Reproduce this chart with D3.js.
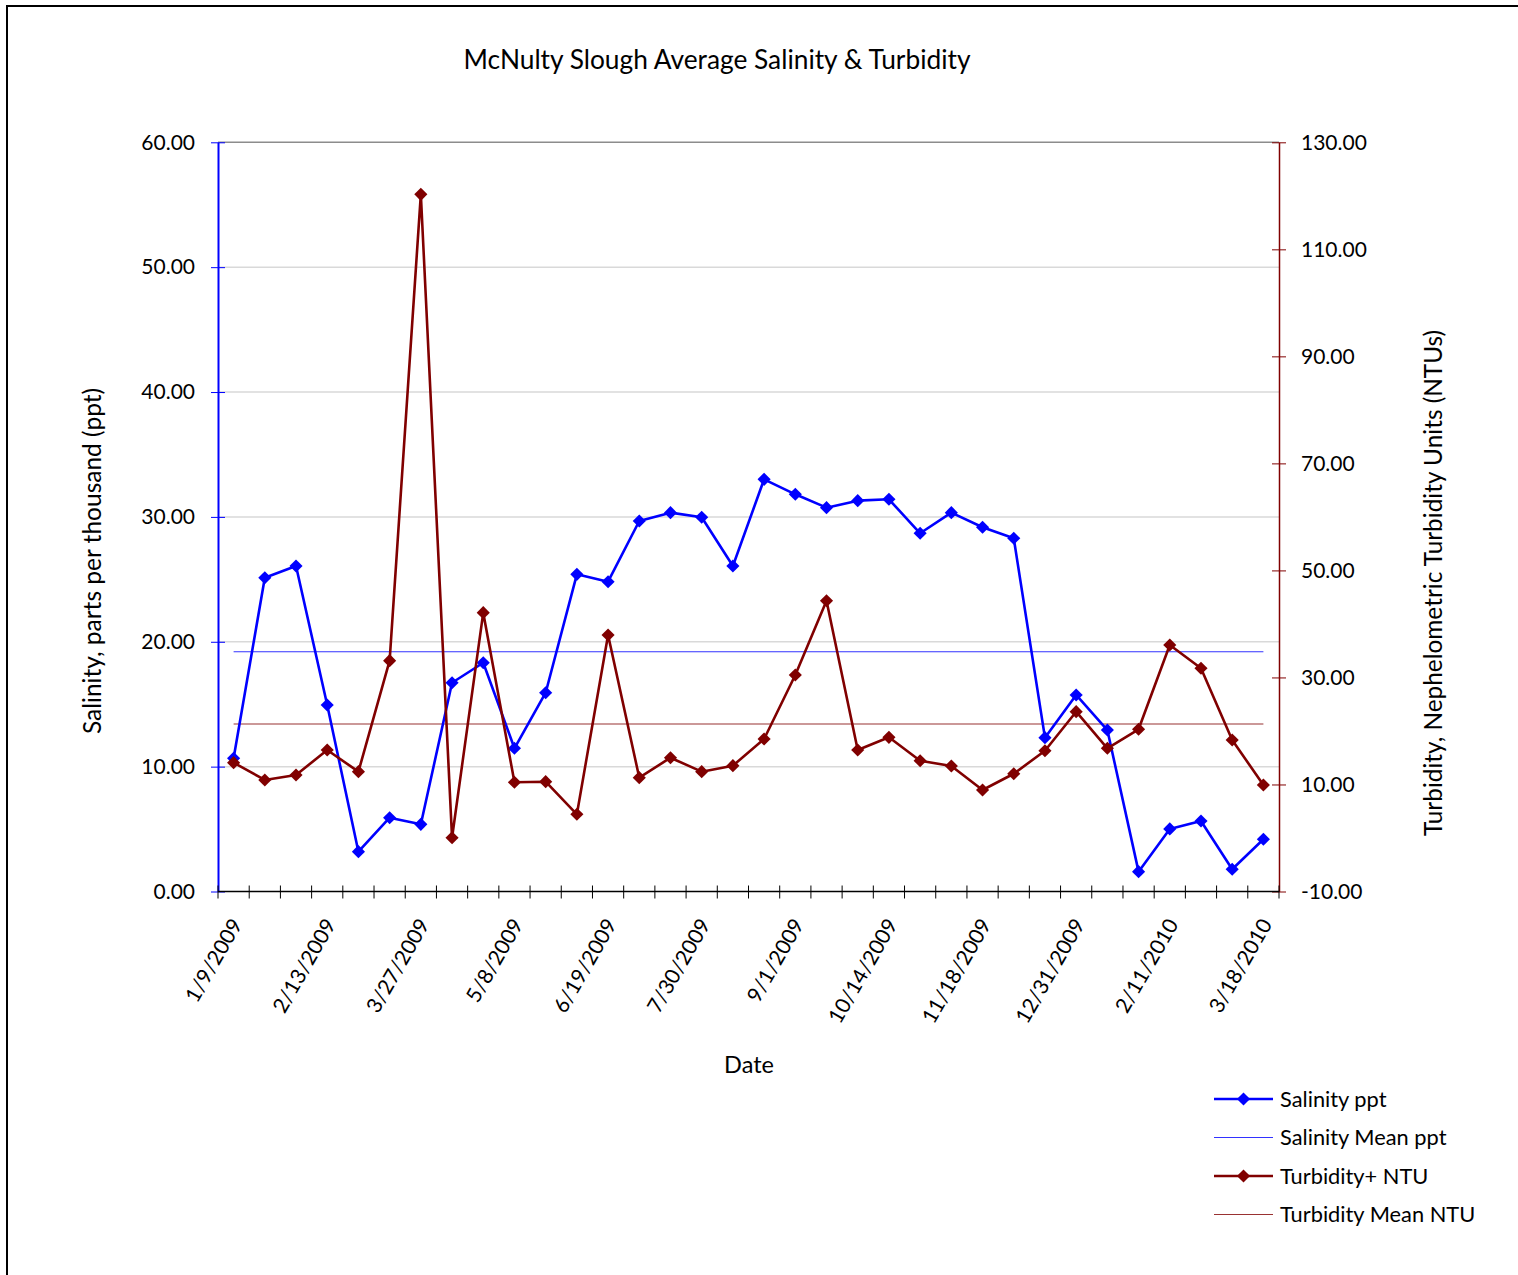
<!DOCTYPE html>
<html lang="en">
<head>
<meta charset="UTF-8">
<title>McNulty Slough Average Salinity &amp; Turbidity</title>
<style>
  body { margin: 0; background: #fff; }
  svg text { font-family: Lato, "Open Sans", sans-serif; fill: #000; }
</style>
</head>
<body>
<svg id="chart" width="1518" height="1275"></svg>
<script src="https://d3js.org/d3.v7.min.js"></script>
<script>
// sample dates (only every third one is labelled on the axis)
var tickLabels = ["1/9/2009", "2/13/2009", "3/27/2009", "5/8/2009", "6/19/2009", "7/30/2009",
                  "9/1/2009", "10/14/2009", "11/18/2009", "12/31/2009", "2/11/2010", "3/18/2010"];
var labelStep = 3;

var salinity = [10.67, 25.13, 26.07, 14.94, 3.19, 5.91, 5.38, 16.72, 18.32, 11.47,
                15.92, 25.40, 24.81, 29.67, 30.34, 29.97, 26.07, 33.01, 31.81, 30.74,
                31.30, 31.41, 28.69, 30.34, 29.17, 28.29, 12.32, 15.74, 12.93, 1.59,
                5.01, 5.65, 1.78, 4.18];
var turbidity = [14.07, 10.84, 11.77, 16.44, 12.39, 33.13, 120.28, 0.05, 42.10, 10.41,
                 10.52, 4.43, 37.93, 11.27, 15.00, 12.39, 13.51, 18.50, 30.46, 44.34,
                 16.44, 18.81, 14.44, 13.45, 8.97, 12.00, 16.31, 23.60, 16.76, 20.31,
                 36.06, 31.71, 18.31, 9.90];
var salinityMean = 19.20;
var turbidityMean = 21.30;

var leftTicks = [0, 10, 20, 30, 40, 50, 60];
var rightTicks = [-10, 10, 30, 50, 70, 90, 110, 130];

var blue = "#0000ff", red = "#800000";
var fmt = function(v) { return v.toFixed(2); };   // plain hyphen for negatives

var svg = d3.select("#chart");

// outer chart border
svg.append("rect")
    .attr("x", 7).attr("y", 6)
    .attr("width", 1530).attr("height", 1300)
    .attr("fill", "none").attr("stroke", "#000").attr("stroke-width", 2);

var plot = { left: 218, right: 1279, top: 142.3, bottom: 891.5 };

var idx = d3.range(salinity.length);
var x = d3.scaleBand().domain(idx).range([plot.left, plot.right]).padding(0);
var cx = function(i) { return x(i) + x.bandwidth() / 2; };

var yL = d3.scaleLinear().domain([0, 60]).range([plot.bottom, plot.top]);
var yR = d3.scaleLinear().domain([-10, 130]).range([plot.bottom, plot.top]);

// gridlines
svg.append("g").selectAll("line")
    .data(leftTicks.slice(1))
    .enter().append("line")
    .attr("x1", plot.left).attr("x2", plot.right)
    .attr("y1", function(d) { return yL(d); })
    .attr("y2", function(d) { return yL(d); })
    .attr("stroke", function(d) { return d == 60 ? "#8c8c8c" : "#d9d9d9"; })
    .attr("stroke-width", 1.5);

// left axis
var leftAxis = svg.append("g")
    .attr("transform", "translate(" + plot.left + ",0)")
    .call(d3.axisLeft(yL).tickValues(leftTicks).tickFormat(fmt)
          .tickSizeInner(7).tickSizeOuter(0).tickPadding(16));
leftAxis.select(".domain").attr("stroke", blue).attr("stroke-width", 2);
leftAxis.selectAll(".tick line").attr("stroke", blue).attr("x2", 7).attr("x1", -7);
leftAxis.selectAll(".tick text").style("font-size", "21px");

// right axis
var rightAxis = svg.append("g")
    .attr("transform", "translate(" + plot.right + ",0)")
    .call(d3.axisRight(yR).tickValues(rightTicks).tickFormat(fmt)
          .tickSizeInner(7).tickSizeOuter(0).tickPadding(15));
rightAxis.select(".domain").attr("stroke", red).attr("stroke-width", 1.5);
rightAxis.selectAll(".tick line").attr("stroke", red).attr("x1", -7).attr("x2", 7);
rightAxis.selectAll(".tick text").style("font-size", "21px");

// bottom axis: ticks at category boundaries
var bottom = svg.append("g");
bottom.append("line")
    .attr("x1", plot.left).attr("x2", plot.right)
    .attr("y1", plot.bottom).attr("y2", plot.bottom)
    .attr("stroke", "#000").attr("stroke-width", 1.5);
bottom.selectAll("line.tk")
    .data(d3.range(salinity.length + 1))
    .enter().append("line").attr("class", "tk")
    .attr("x1", function(i) { return plot.left + i * x.bandwidth(); })
    .attr("x2", function(i) { return plot.left + i * x.bandwidth(); })
    .attr("y1", plot.bottom - 6).attr("y2", plot.bottom + 7)
    .attr("stroke", "#000").attr("stroke-width", 1);
bottom.selectAll("text")
    .data(tickLabels)
    .enter().append("text")
    .attr("transform", function(d, k) {
        return "translate(" + (cx(k * labelStep) + 3) + "," + (plot.bottom + 29) + ") rotate(-60)";
    })
    .attr("text-anchor", "end")
    .attr("dy", "0.35em")
    .style("font-size", "21px")
    .text(function(d) { return d; });

// mean lines
svg.append("line")
    .attr("x1", cx(0)).attr("x2", cx(idx.length - 1))
    .attr("y1", yL(salinityMean)).attr("y2", yL(salinityMean))
    .attr("stroke", blue).attr("stroke-width", 1.2).attr("opacity", 0.8);
svg.append("line")
    .attr("x1", cx(0)).attr("x2", cx(idx.length - 1))
    .attr("y1", yR(turbidityMean)).attr("y2", yR(turbidityMean))
    .attr("stroke", red).attr("stroke-width", 1.2).attr("opacity", 0.8);

var diamond = d3.symbol().type(d3.symbolDiamond2).size(110);

function drawSeries(values, scale, color) {
    var line = d3.line()
        .x(function(d, i) { return cx(i); })
        .y(function(d) { return scale(d); });
    svg.append("path")
        .datum(values)
        .attr("d", line)
        .attr("fill", "none")
        .attr("stroke", color)
        .attr("stroke-width", 2.6)
        .attr("stroke-linejoin", "round");
    svg.append("g").selectAll("path")
        .data(values)
        .enter().append("path")
        .attr("d", diamond)
        .attr("transform", function(d, i) { return "translate(" + cx(i) + "," + scale(d) + ")"; })
        .attr("fill", color);
}

drawSeries(salinity, yL, blue);
drawSeries(turbidity, yR, red);

// titles
svg.append("text")
    .attr("x", 717).attr("y", 69)
    .attr("text-anchor", "middle")
    .style("font-size", "26.3px")
    .text("McNulty Slough Average Salinity & Turbidity");

svg.append("text")
    .attr("transform", "translate(101,561) rotate(-90)")
    .attr("text-anchor", "middle")
    .style("font-size", "24.5px")
    .text("Salinity, parts per thousand (ppt)");

svg.append("text")
    .attr("transform", "translate(1442,583) rotate(-90)")
    .attr("text-anchor", "middle")
    .style("font-size", "24.4px")
    .text("Turbidity, Nephelometric Turbidity Units (NTUs)");

svg.append("text")
    .attr("x", 749).attr("y", 1073)
    .attr("text-anchor", "middle")
    .style("font-size", "23.5px")
    .text("Date");

// legend
var legendItems = [
    { name: "Salinity ppt", color: blue, marker: true, w: 2.6 },
    { name: "Salinity Mean ppt", color: blue, marker: false, w: 1.2 },
    { name: "Turbidity+ NTU", color: red, marker: true, w: 2.6 },
    { name: "Turbidity Mean NTU", color: red, marker: false, w: 1.2 }
];
var legend = svg.append("g").selectAll("g")
    .data(legendItems)
    .enter().append("g")
    .attr("transform", function(d, i) { return "translate(1214," + (1099 + i * 38.5) + ")"; });
legend.append("line")
    .attr("x1", 0).attr("x2", 59)
    .attr("stroke", function(d) { return d.color; })
    .attr("stroke-width", function(d) { return d.w; })
    .attr("opacity", function(d) { return d.marker ? 1 : 0.8; });
legend.filter(function(d) { return d.marker; })
    .append("path")
    .attr("d", diamond)
    .attr("transform", "translate(29.5,0)")
    .attr("fill", function(d) { return d.color; });
legend.append("text")
    .attr("x", 66).attr("dy", "0.35em")
    .style("font-size", "21.8px")
    .text(function(d) { return d.name; });
</script>
</body>
</html>
